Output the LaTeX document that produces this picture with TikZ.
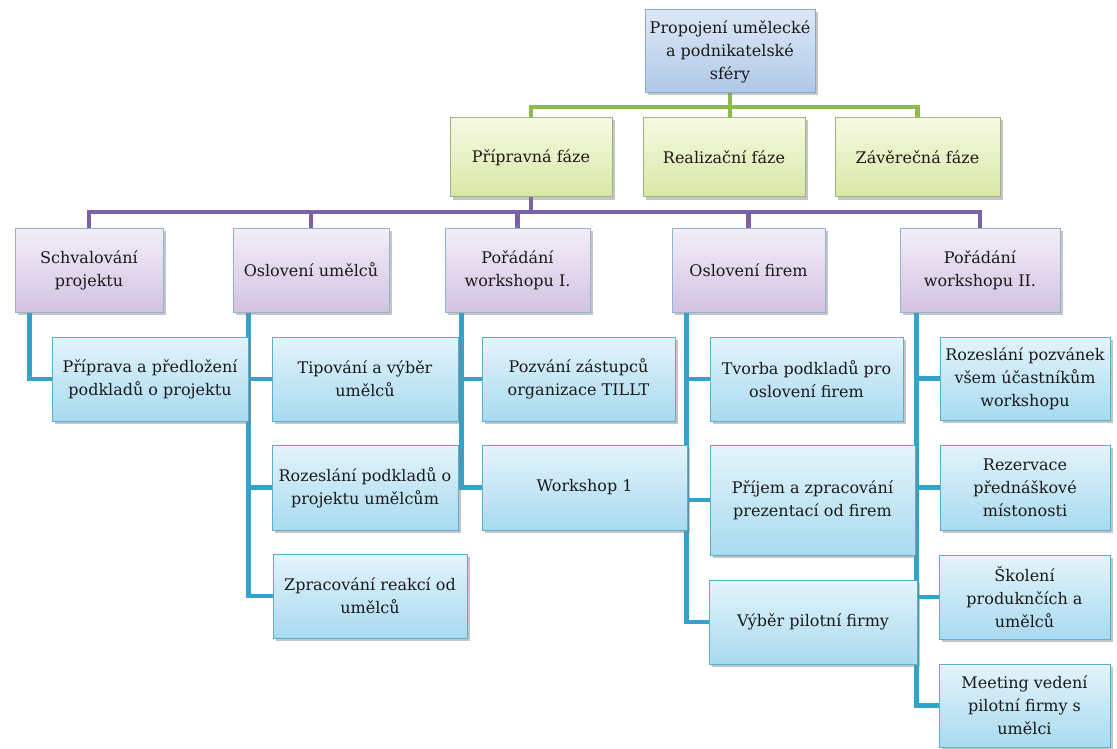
\documentclass[tikz,border=0pt]{standalone}
\usepackage{fontspec}
\setmainfont{DejaVu Serif}
\usetikzlibrary{shadows,backgrounds,calc}
\definecolor{greenln}{HTML}{8CBB4A}
\definecolor{purpleln}{HTML}{7D60A6}
\definecolor{blueln}{HTML}{33A3C9}
\definecolor{topA}{HTML}{DDE8F6}\definecolor{topB}{HTML}{AFC8E8}\definecolor{topE}{HTML}{8AA9CF}
\definecolor{grA}{HTML}{F6FAE2}\definecolor{grB}{HTML}{D8E7A4}\definecolor{grE}{HTML}{9FB47E}
\definecolor{puA}{HTML}{F4EEF8}\definecolor{puB}{HTML}{D2C2E2}\definecolor{puE}{HTML}{8FB5D0}
\definecolor{blA}{HTML}{E4F4FB}\definecolor{blB}{HTML}{A8DAF0}\definecolor{blE}{HTML}{5AAFCB}
\definecolor{txt}{HTML}{1A1A1A}
\begin{document}
\begin{tikzpicture}[x=1pt,y=-1pt,
  box/.style={draw, line width=1pt, align=center, inner sep=1pt, text=txt,
     font=\fontsize{16}{23}\selectfont,
     drop shadow={opacity=0.45, shadow xshift=2.5pt, shadow yshift=-2.5pt}},
  topbox/.style={box, draw=topE, top color=topA, bottom color=topB},
  grbox/.style={box, draw=grE, top color=grA, bottom color=grB},
  pubox/.style={box, draw=puE, top color=puA, bottom color=puB},
  blbox/.style={box, draw=blE, top color=blA, bottom color=blB},
  gline/.style={draw=greenln, line width=4.5pt},
  pline/.style={draw=purpleln, line width=4.5pt},
  bline/.style={draw=blueln, line width=4.5pt}]
\useasboundingbox (0,0) rectangle (1117,749);

\node[topbox, minimum width=170pt, minimum height=83pt] (top) at (730,51.5) {Propojení umělecké\\a podnikatelské\\sféry};

\node[grbox, minimum width=162pt, minimum height=79pt] (p1) at (531,157.5) {Přípravná fáze};
\node[grbox, minimum width=162pt, minimum height=79pt] (p2) at (724,157.5) {Realizační fáze};
\node[grbox, minimum width=165pt, minimum height=79pt] (p3) at (917.5,157.5) {Závěrečná fáze};

\node[pubox, minimum width=148pt, minimum height=84pt] (s1) at (89,270) {Schvalování\\projektu};
\node[pubox, minimum width=156pt, minimum height=84pt] (s2) at (311,270) {Oslovení umělců};
\node[pubox, minimum width=145pt, minimum height=84pt] (s3) at (517.5,270) {Pořádání\\workshopu I.};
\node[pubox, minimum width=153pt, minimum height=84pt] (s4) at (748.5,270) {Oslovení firem};
\node[pubox, minimum width=160pt, minimum height=84pt] (s5) at (980,270) {Pořádání\\workshopu II.};

\node[blbox, minimum width=196pt, minimum height=84pt] (c11) at (150,379) {Příprava a předložení\\podkladů o projektu};
\node[blbox, minimum width=186pt, minimum height=84pt] (c21) at (365,379) {Tipování a výběr\\umělců};
\node[blbox, minimum width=186pt, minimum height=85pt] (c22) at (365,487.5) {Rozeslání podkladů o\\projektu umělcům};
\node[blbox, minimum width=194pt, minimum height=84pt] (c23) at (370,596) {Zpracování reakcí od\\umělců};
\node[blbox, minimum width=193pt, minimum height=84pt] (c31) at (578.5,379) {Pozvání zástupců\\organizace TILLT};
\node[blbox, minimum width=205pt, minimum height=85pt] (c32) at (584.5,487.5) {Workshop 1};
\node[blbox, minimum width=193pt, minimum height=84pt] (c41) at (806.5,379) {Tvorba podkladů pro\\oslovení firem};
\node[blbox, minimum width=205pt, minimum height=110pt] (c42) at (812.5,500) {Příjem a zpracování\\prezentací od firem};
\node[blbox, minimum width=208pt, minimum height=84pt] (c43) at (813,622) {Výběr pilotní firmy};
\node[blbox, minimum width=170pt, minimum height=83pt] (c51) at (1025,378.5) {Rozeslání pozvánek\\všem účastníkům\\workshopu};
\node[blbox, minimum width=170pt, minimum height=85pt] (c52) at (1025,487.5) {Rezervace\\přednáškové\\místonosti};
\node[blbox, minimum width=171pt, minimum height=84pt] (c53) at (1024.5,597) {Školení\\produknčích a\\umělců};
\node[blbox, minimum width=171pt, minimum height=83pt] (c54) at (1024.5,705.5) {Meeting vedení\\pilotní firmy s\\umělci};

\coordinate (gy) at (0,107);
\coordinate (py) at (0,212);

\begin{pgfonlayer}{background}
\fill[white] (0,0) rectangle (1117,749);
\draw[gline] (top.south) -- (top.south |- gy) -| (p1.north);
\draw[gline] (top.south |- gy) -| (p3.north);
\draw[gline] (top.south |- gy) -- (top.south |- p2.north);

\draw[pline] (p1.south) -- (p1.south |- py);
\draw[pline] (p1.south |- py) -| (s1.north);
\draw[pline] (p1.south |- py) -| (s2.north);
\draw[pline] (p1.south |- py) -| (s3.north);
\draw[pline] (p1.south |- py) -| (s4.north);
\draw[pline] (p1.south |- py) -| (s5.north);

\coordinate (b1) at ($(s1.south west)+(15,0)$);
\coordinate (b2) at ($(s2.south west)+(16,0)$);
\coordinate (b3) at ($(s3.south west)+(17,0)$);
\coordinate (b4) at ($(s4.south west)+(15,0)$);
\coordinate (b5) at ($(s5.south west)+(17,0)$);
\draw[bline] (b1) |- (c11.west);
\draw[bline] (b2) |- (c21.west);
\draw[bline] (b2) |- (c22.west);
\draw[bline] (b2) |- (c23.west);
\draw[bline] (b3) |- (c31.west);
\draw[bline] (b3) |- (c32.west);
\draw[bline] (b4) |- (c41.west);
\draw[bline] (b4) |- (c42.west);
\draw[bline] (b4) |- (c43.west);
\draw[bline] (b5) |- (c51.west);
\draw[bline] (b5) |- (c52.west);
\draw[bline] (b5) |- (c53.west);
\draw[bline] (b5) |- (c54.west);
\end{pgfonlayer}
\end{tikzpicture}
\end{document}
